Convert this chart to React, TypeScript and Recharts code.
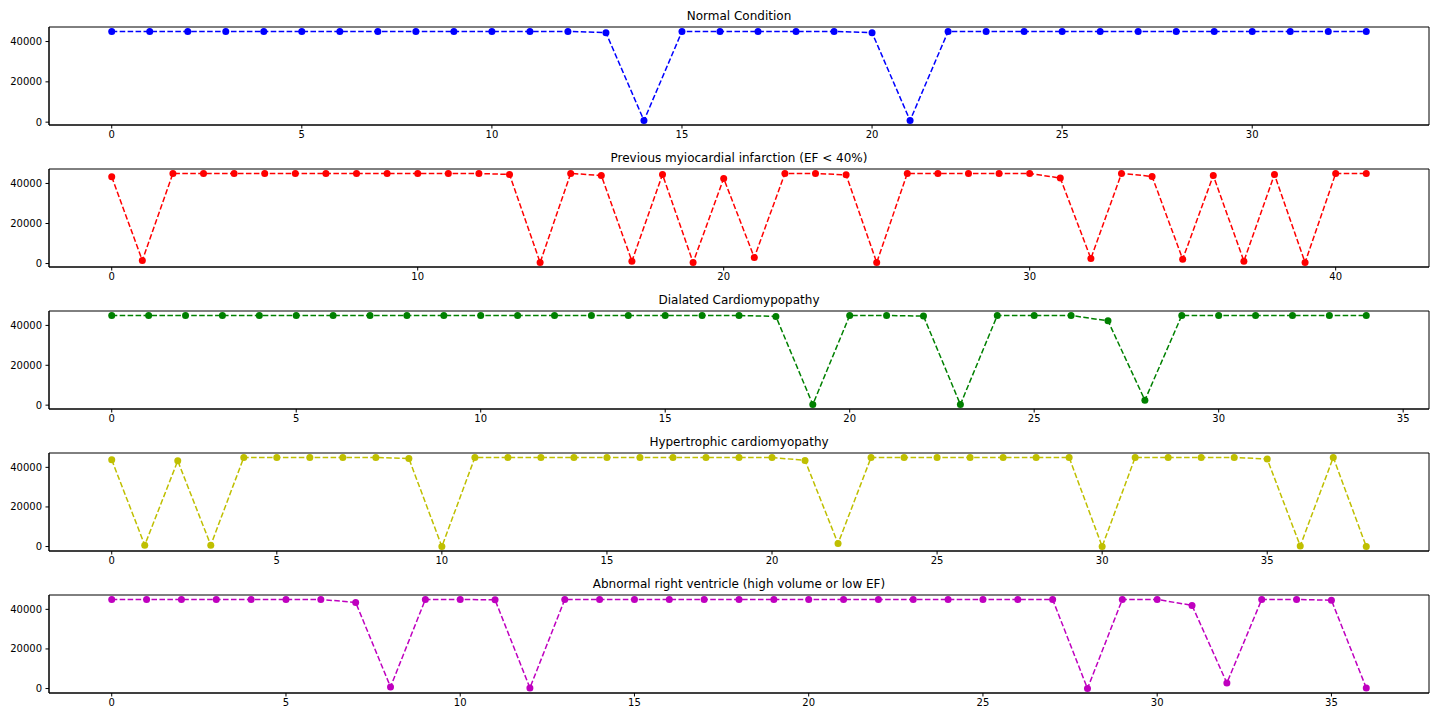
import React from 'react';
import { LineChart, Line, XAxis, YAxis, ReferenceArea } from 'recharts';

const normalCondition = [45000, 45000, 45000, 45000, 45000, 45000, 45000, 45000, 45000, 45000, 45000, 45000, 45000, 44400, 800, 45000, 45000, 45000, 45000, 45000, 44400, 800, 45000, 45000, 45000, 45000, 45000, 45000, 45000, 45000, 45000, 45000, 45000, 45000];
const previousMI = [43300, 1500, 45000, 45000, 45000, 45000, 45000, 45000, 45000, 45000, 45000, 45000, 45000, 44500, 500, 45000, 44000, 1200, 44500, 500, 42500, 3000, 45000, 45000, 44300, 500, 45000, 45000, 45000, 45000, 45000, 42700, 2500, 45000, 43500, 2200, 44000, 1200, 44500, 500, 45000, 45000];
const dilatedCM = [45000, 45000, 45000, 45000, 45000, 45000, 45000, 45000, 45000, 45000, 45000, 45000, 45000, 45000, 45000, 45000, 45000, 45000, 44500, 300, 45000, 45000, 44700, 300, 45000, 45000, 45000, 42300, 2500, 45000, 45000, 45000, 45000, 45000, 45000];
const hypertrophicCM = [43800, 700, 43300, 700, 45000, 45000, 45000, 45000, 45000, 44500, 0, 45000, 45000, 45000, 45000, 45000, 45000, 45000, 45000, 45000, 45000, 43500, 1500, 45000, 45000, 45000, 45000, 45000, 45000, 45000, 0, 45000, 45000, 45000, 45000, 44200, 300, 45000, 0];
const abnormalRV = [45000, 45000, 45000, 45000, 45000, 45000, 45000, 43500, 800, 45000, 45000, 44800, 300, 45000, 45000, 45000, 45000, 45000, 45000, 45000, 45000, 45000, 45000, 45000, 45000, 45000, 45000, 45000, 0, 45000, 45000, 42000, 2800, 45000, 45000, 44600, 300];

const titles = [
  'Normal Condition',
  'Previous myiocardial infarction (EF < 40%)',
  'Dialated Cardiomypopathy',
  'Hypertrophic cardiomyopathy',
  'Abnormal right ventricle (high volume or low EF)',
];
const colors = ['#0000ff', '#ff0000', '#008000', '#bfbf00', '#bf00bf'];
const xTicks5 = [0, 5, 10, 15, 20, 25, 30];
const xTicks10 = [0, 10, 20, 30, 40];
const xTicks5to35 = [0, 5, 10, 15, 20, 25, 30, 35];
const yTicks = [0, 20000, 40000];

const FONT = '"DejaVu Sans", sans-serif';

type PanelProps = { title: string; values: number[]; color: string; xTicks: number[]; top: number };

function Panel({ title, values, color, xTicks, top }: PanelProps) {
  const data = values.map((v, i) => ({ x: i, y: v }));
  const n = values.length - 1;
  const lo = Math.min(...values);
  const hi = Math.max(...values);
  const pad = (hi - lo) * 0.05;
  const xDomain: [number, number] = [-0.05 * n, 1.05 * n];
  const yDomain: [number, number] = [lo - pad, hi + pad];
  return (
    <div style={{ position: 'absolute', left: 0, top, width: 1440, height: 142 }}>
      <div
        style={{
          position: 'absolute',
          left: 49,
          width: 1380,
          top: 9,
          textAlign: 'center',
          fontSize: 12,
          lineHeight: '14px',
          fontFamily: FONT,
          color: '#000',
        }}
      >
        {title}
      </div>
      <LineChart width={1440} height={142} data={data} margin={{ top: 27, right: 11, bottom: 0, left: 0 }}>
        <XAxis
          dataKey="x"
          type="number"
          domain={xDomain}
          ticks={xTicks}
          interval={0}
          allowDataOverflow
          height={17}
          tickSize={3.5}
          tickMargin={2}
          stroke="#000"
          tick={{ fill: '#000', fontSize: 10, fontFamily: FONT }}
        />
        <YAxis
          type="number"
          domain={yDomain}
          ticks={yTicks}
          interval={0}
          allowDataOverflow
          width={49}
          tickSize={3.5}
          tickMargin={3.5}
          stroke="#000"
          tick={{ fill: '#000', fontSize: 10, fontFamily: FONT }}
        />
        <ReferenceArea
          x1={xDomain[0]}
          x2={xDomain[1]}
          y1={yDomain[0]}
          y2={yDomain[1]}
          fill="none"
          fillOpacity={0}
          stroke="#000"
          strokeWidth={1}
          ifOverflow="visible"
        />
        <Line
          dataKey="y"
          type="linear"
          stroke={color}
          strokeWidth={1.5}
          strokeDasharray="5.55 2.4"
          dot={{ r: 3.5, fill: color, stroke: 'none', strokeDasharray: '' }}
          activeDot={false}
          isAnimationActive={false}
        />
      </LineChart>
    </div>
  );
}

export default function App() {
  const series = [normalCondition, previousMI, dilatedCM, hypertrophicCM, abnormalRV];
  const ticks = [xTicks5, xTicks10, xTicks5to35, xTicks5to35, xTicks5to35];
  return (
    <div style={{ position: 'absolute', left: 0, top: 0, width: 1440, height: 720, background: '#fff' }}>
      {series.map((vals, i) => (
        <Panel key={i} title={titles[i]} values={vals} color={colors[i]} xTicks={ticks[i]} top={i * 142} />
      ))}
    </div>
  );
}
